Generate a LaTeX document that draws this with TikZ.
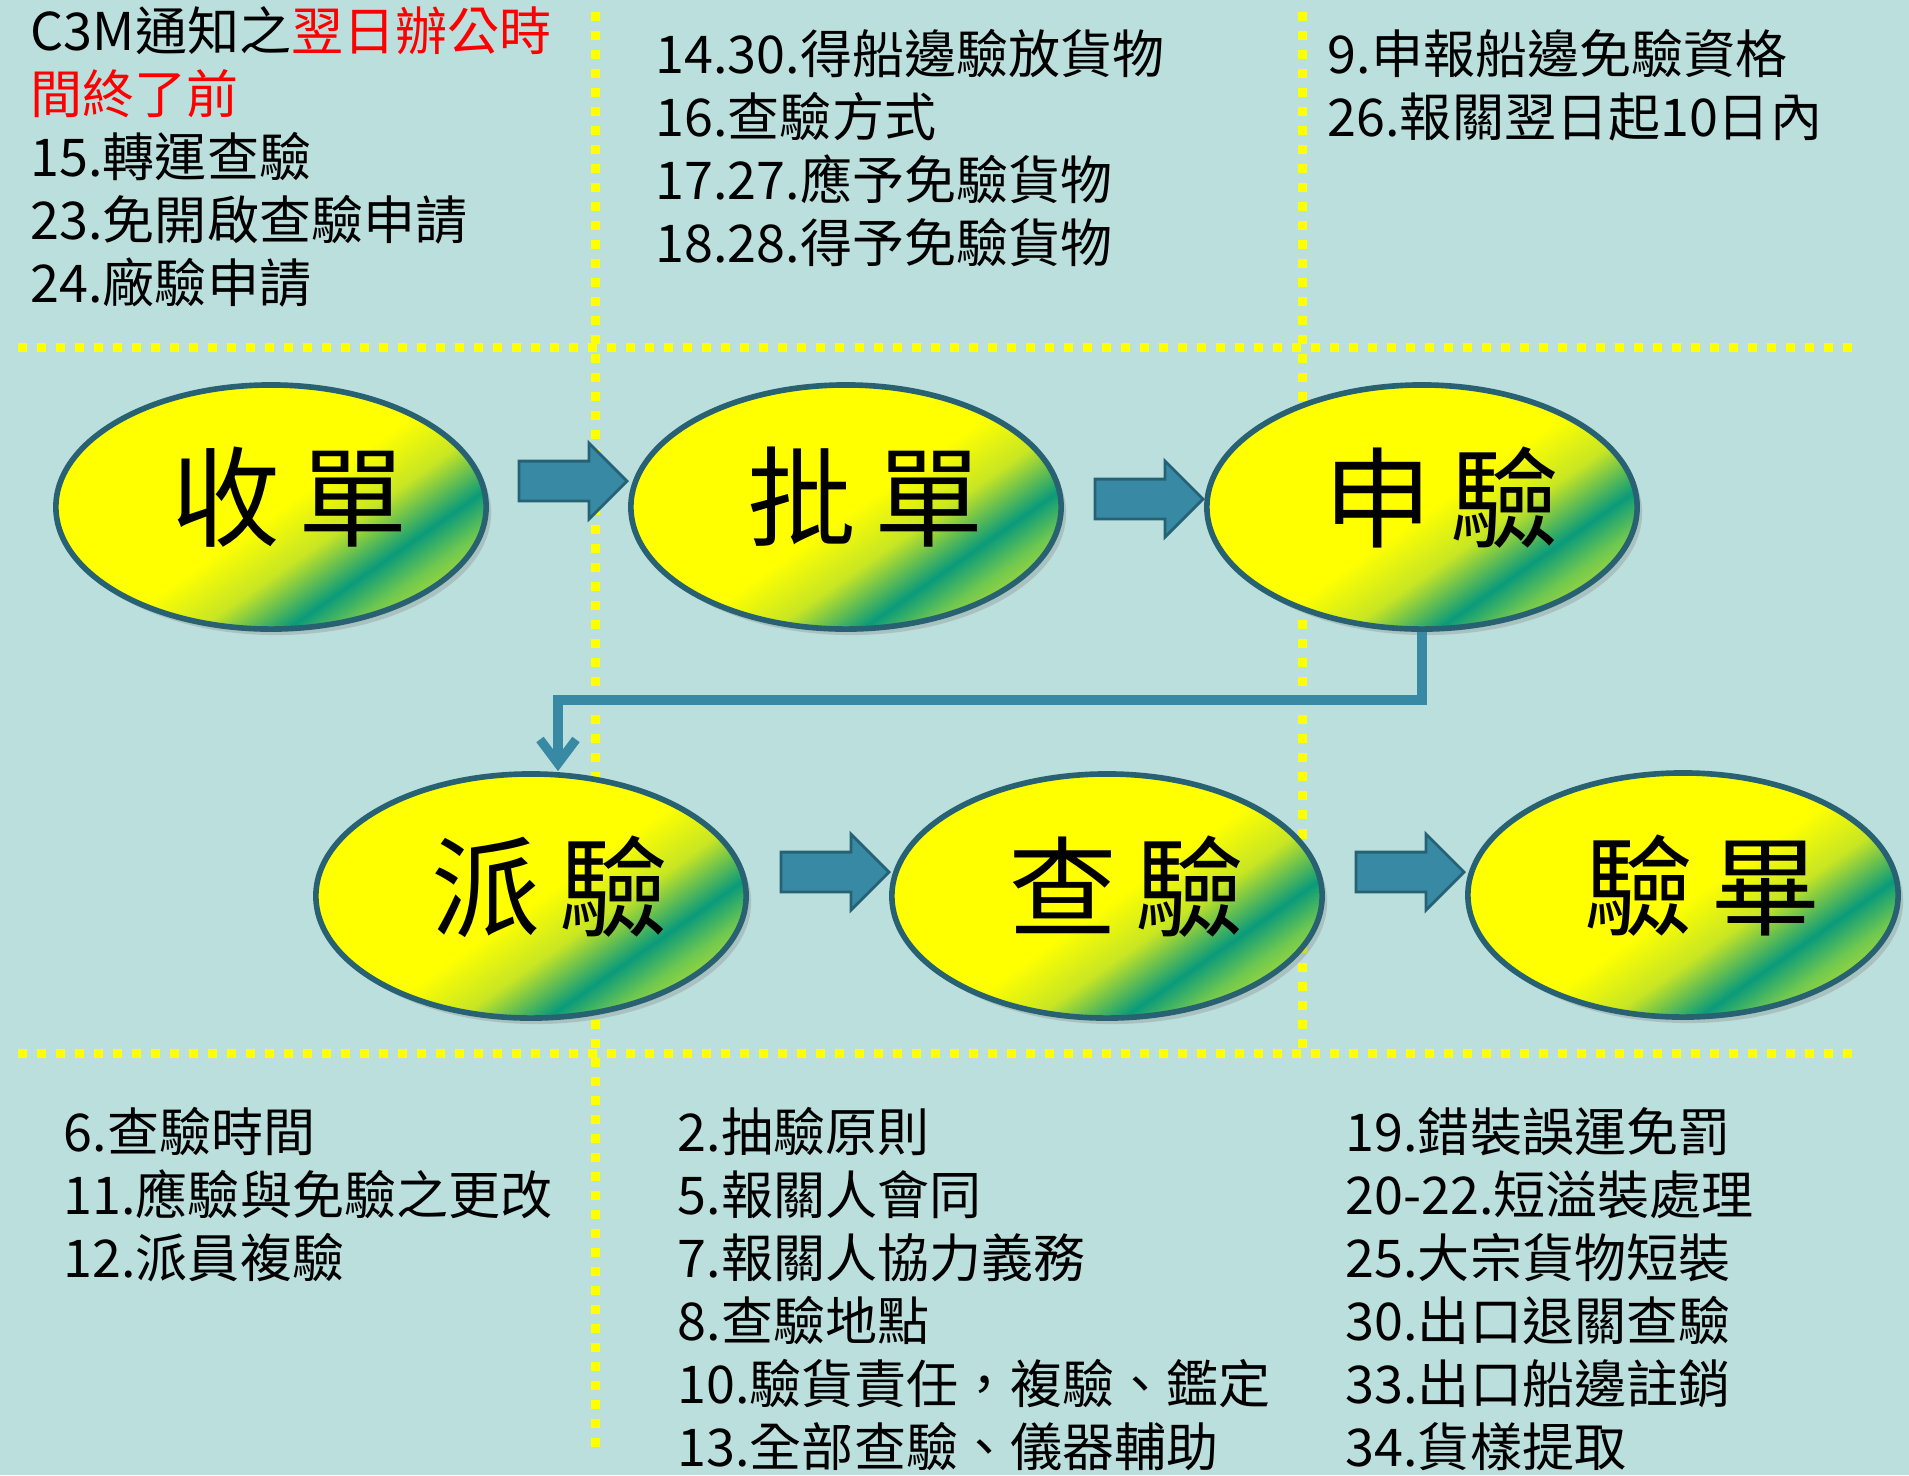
\documentclass[tikz,border=0pt]{standalone}
\usepackage{fontspec}
\setmainfont{Noto Sans CJK TC}
\usetikzlibrary{shapes.geometric,shapes.arrows,shadows,arrows.meta}
\definecolor{sheet}{RGB}{187,223,221}
\definecolor{dotline}{RGB}{255,255,0}
\definecolor{rim}{RGB}{40,98,114}
\definecolor{flowblue}{RGB}{56,138,164}
\definecolor{flowrim}{RGB}{38,98,118}
\definecolor{leafY}{RGB}{255,255,0}
\definecolor{leafA}{RGB}{200,230,35}
\definecolor{leafB}{RGB}{10,155,122}
\definecolor{leafC}{RGB}{110,200,80}
\definecolor{leafD}{RGB}{190,226,45}
\pgfdeclarehorizontalshading{stageshade}{100bp}{color(0bp)=(leafY); color(51bp)=(leafY); color(59bp)=(leafA); color(67bp)=(leafB); color(72bp)=(leafC); color(78bp)=(leafD); color(100bp)=(leafD)}
\newcommand\stagetext[2]{\raisebox{0.28cm}{\hspace*{0.38cm}#1\hspace{0.18cm}#2}}
\begin{document}
\begin{tikzpicture}[x=0.01cm,y=-0.01cm]
        % Styles
        \tikzstyle{dots}=[dotline,line width=0.09cm,dash pattern=on 0.09cm off 0.1cm]
        \tikzstyle{stage}=[ellipse,draw=rim,line width=1.6pt,shading=stageshade,shading angle=-55,
            minimum width=4.3cm,minimum height=2.44cm,inner sep=0pt,
            font=\fontsize{31pt}{31pt}\selectfont,
            drop shadow={shadow xshift=0.05cm,shadow yshift=-0.06cm,opacity=0.3}]
        \tikzstyle{blockarrow}=[single arrow,draw=flowrim,fill=flowblue,line width=0.8pt,
            minimum height=1.08cm,single arrow head extend=0.18cm,inner xsep=0pt,inner ysep=0.185cm]
        \tikzstyle{link}=[flowblue,line width=2.6pt,-{Straight Barb[length=0.24cm,width=0.36cm]}]
        \tikzstyle{notes}=[anchor=north west,align=left,inner sep=0pt,font=\fontsize{14.8pt}{17.9pt}\selectfont]
        %The graphic
        \useasboundingbox (0,0) rectangle (1909,1475);
        \fill[sheet] (0,0) rectangle (1909,1475);
        %dotted grid
        \draw[dots] (18,347) -- (1853,347);
        \draw[dots] (18,1053) -- (1853,1053);
        \draw[dots] (595,12) -- (595,1453);
        \draw[dots] (1302,12) -- (1302,1053);
        %stages
        \node[stage] (shoudan) at (271,507) {\stagetext{收}{單}};
        \node[stage] (pidan) at (846,507) {\stagetext{批}{單}};
        \node[stage] (shenyan) at (1422,507) {\stagetext{申}{驗}};
        \node[stage] (paiyan) at (531,896) {\stagetext{派}{驗}};
        \node[stage] (chayan) at (1107,896) {\stagetext{查}{驗}};
        \node[stage] (yanbi) at (1683,895) {\stagetext{驗}{畢}};
        %arrows between stages
        \node[blockarrow] (go1) at (563,481) {};
        \node[blockarrow] (go2) at (1139,499) {};
        \node[blockarrow] (go3) at (825,872) {};
        \node[blockarrow] (go4) at (1400,872) {};
        %connector
        \coordinate (bend) at (558,700);
        \draw[link] (shenyan.south) |- (bend) -- (bend |- paiyan.north);
        %notes
        \node[notes] (topleft) at (30,6) {C3M通知之\textcolor{red}{翌日辦公時}\\\textcolor{red}{間終了前}\\15.轉運查驗\\23.免開啟查驗申請\\24.廠驗申請};
        \node[notes] (topmid) at (655,29) {14.30.得船邊驗放貨物\\16.查驗方式\\17.27.應予免驗貨物\\18.28.得予免驗貨物};
        \node[notes] (topright) at (1327,29) {9.申報船邊免驗資格\\26.報關翌日起10日內};
        \node[notes] (botleft) at (63,1107) {6.查驗時間\\11.應驗與免驗之更改\\12.派員複驗};
        \node[notes] (botmid) at (677,1107) {2.抽驗原則\\5.報關人會同\\7.報關人協力義務\\8.查驗地點\\10.驗貨責任，複驗、鑑定\\13.全部查驗、儀器輔助};
        \node[notes] (botright) at (1345,1107) {19.錯裝誤運免罰\\20-22.短溢裝處理\\25.大宗貨物短裝\\30.出口退關查驗\\33.出口船邊註銷\\34.貨樣提取};
\end{tikzpicture}
\end{document}
